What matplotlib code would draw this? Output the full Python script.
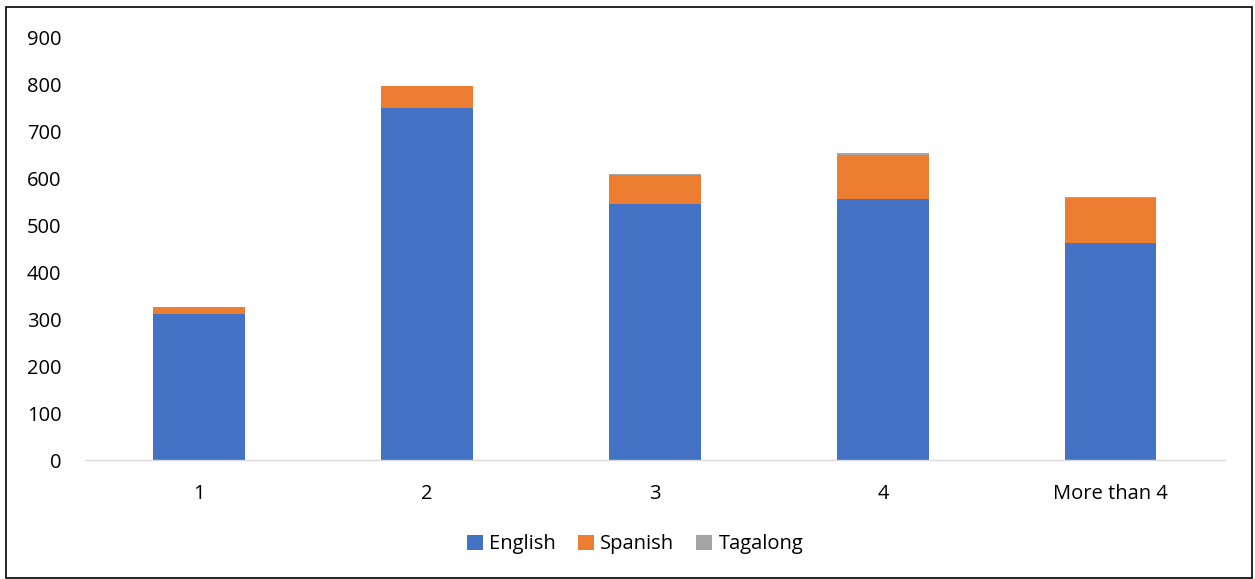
import numpy as np
import matplotlib.pyplot as plt
from matplotlib.patches import Rectangle

plt.rcParams['font.family'] = ['Open Sans', 'DejaVu Sans']

categories = ['1', '2', '3', '4', 'More than 4']
english = [311, 750, 545, 556, 461]
spanish = [14, 45, 61, 94, 96]
tagalong = [1, 0, 2, 3, 3]

colors = ['#4472C4', '#ED7D31', '#A5A5A5']

fig = plt.figure(figsize=(12.55, 5.79), dpi=100)
ax = fig.add_axes([0.0677, 0.2055, 0.9083, 0.7305])

x = np.arange(len(categories))
w = 0.4
eng = np.array(english)
spa = np.array(spanish)
tag = np.array(tagalong)
ax.bar(x, eng, w, color=colors[0], label='English')
ax.bar(x, spa, w, bottom=eng, color=colors[1], label='Spanish')
ax.bar(x, tag, w, bottom=eng + spa, color=colors[2], label='Tagalong')

ax.set_xlim(-0.5, len(categories) - 0.5)
ax.set_ylim(0, 900)
ax.set_yticks(range(0, 901, 100))
ax.set_xticks(x)
ax.set_xticklabels(categories)

for s in ['top', 'right', 'left']:
    ax.spines[s].set_visible(False)
ax.spines['bottom'].set_color('#D9D9D9')
ax.spines['bottom'].set_linewidth(1)
ax.tick_params(axis='both', length=0, labelsize=14.5, colors='#000000')
ax.tick_params(axis='y', pad=17)
ax.tick_params(axis='x', pad=17)

handles, labels = ax.get_legend_handles_labels()
fig.legend(handles, labels, loc='center', bbox_to_anchor=(0.506, 0.06), ncol=3,
           frameon=False, fontsize=14.5, handlelength=0.8, handleheight=0.8,
           handletextpad=0.3, columnspacing=1.1)

# outer frame
fig.patches.append(Rectangle((0.005, 0.002), 0.993, 0.986, transform=fig.transFigure,
                             fill=False, edgecolor='black', linewidth=1.2))

fig.savefig('out.png', dpi=100)
